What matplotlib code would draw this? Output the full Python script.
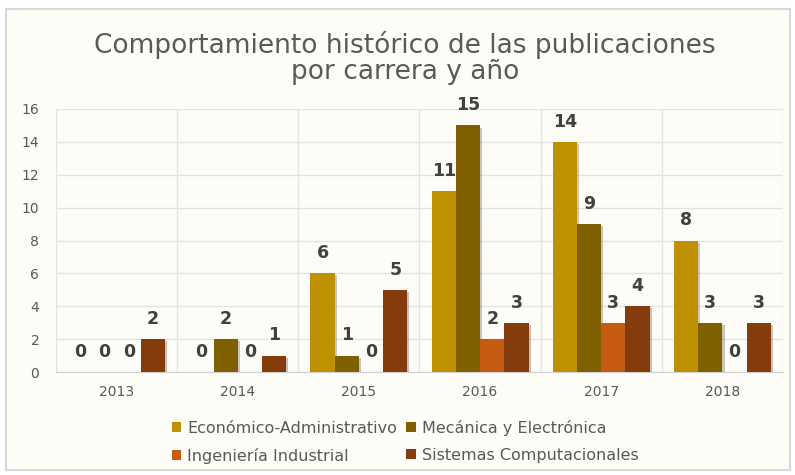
import matplotlib
matplotlib.use("Agg")
import matplotlib.pyplot as plt
import matplotlib.patheffects as pe
from matplotlib.patches import Rectangle, Patch
import numpy as np

years = ["2013", "2014", "2015", "2016", "2017", "2018"]
series_names = ["Económico-Administrativo", "Mecánica y Electrónica",
                "Ingeniería Industrial", "Sistemas Computacionales"]
econ = [0, 0, 6, 11, 14, 8]
meca = [0, 2, 1, 15, 9, 3]
ing = [0, 0, 0, 2, 3, 0]
sist = [2, 1, 5, 3, 4, 3]
values = [econ, meca, ing, sist]
colors = ["#BF9000", "#7F6000", "#C55A11", "#843C0C"]
yticks = [0, 2, 4, 6, 8, 10, 12, 14, 16]

bg = "#FDFCF7"
txt = "#595959"

fig = plt.figure(figsize=(7.95, 4.75), dpi=100, facecolor="white")
fig.patches.append(Rectangle((6/795, 5/475), 784/795, 461/475, transform=fig.transFigure,
                             facecolor=bg, edgecolor="#D9D9D9", linewidth=1.5, zorder=-10))
ax = fig.add_axes([56/795, 1-372/475, (783-56)/795, (372-109)/475])
ax.set_facecolor(bg)

x = np.arange(len(years))
w = 0.2
for i, (name, vals, c) in enumerate(zip(series_names, values, colors)):
    pos = x - 0.3 + i * w
    ax.bar(pos, vals, width=w, color=c, label=name, zorder=3,
           path_effects=[pe.SimplePatchShadow(offset=(1.5, -1.5), alpha=0.25), pe.Normal()])
    for p, v in zip(pos, vals):
        ax.annotate(str(v), (p, v), xytext=(0, 8), textcoords="offset points",
                    ha="center", va="bottom", fontsize=12.5, fontweight="bold",
                    color="#404040", zorder=4)

ax.set_xlim(-0.5, len(years) - 0.5)
ax.set_ylim(0, 16)
ax.set_yticks(yticks)
ax.set_xticks(x)
ax.set_xticklabels(years)
ax.set_xticks(np.arange(-0.5, len(years)), minor=True)
ax.grid(axis="y", color="#E3E3E3", linewidth=1, zorder=0)
ax.grid(axis="x", which="minor", color="#E3E3E3", linewidth=1, zorder=0)
ax.tick_params(axis="both", which="both", length=0, labelsize=10, colors=txt)
ax.tick_params(axis="x", pad=9)
ax.tick_params(axis="y", pad=12)
for s in ["top", "right", "left"]:
    ax.spines[s].set_visible(False)
ax.spines["bottom"].set_color("#D0D0D0")

fig.text(405/795, 1-58/475, "Comportamiento histórico de las publicaciones\npor carrera y año",
         ha="center", va="center", fontsize=19, color=txt, linespacing=1.0)

order = [0, 2, 1, 3]
proxies = [Patch(facecolor=colors[i], edgecolor="none") for i in order]
leg = fig.legend(proxies, [series_names[i] for i in order],
                 loc="center", bbox_to_anchor=(405/795, 1-442/475), ncol=2,
                 frameon=False, fontsize=11.5, labelcolor=txt, handlelength=0.6,
                 handleheight=0.6, handletextpad=0.35, columnspacing=0.6, labelspacing=0.75)

fig.savefig("out.png", dpi=100, facecolor="white")
